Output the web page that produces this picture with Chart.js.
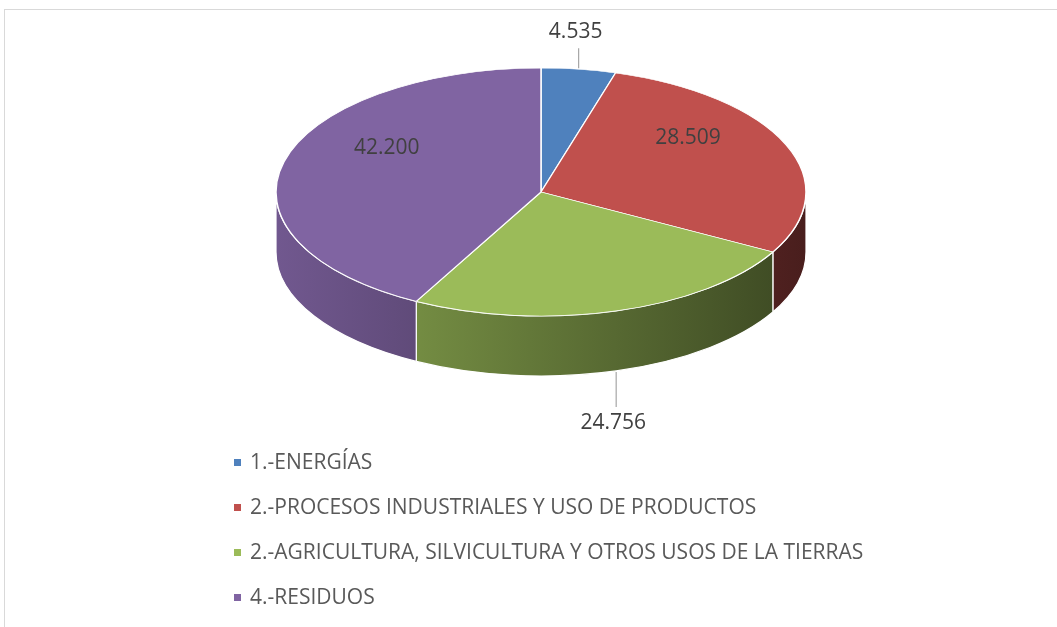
<!DOCTYPE html>
<html>
<head>
<meta charset="utf-8">
<script src="https://cdn.jsdelivr.net/npm/chart.js@4.4.1/dist/chart.umd.min.js"></script>
<style>
  html, body { margin: 0; padding: 0; background: #fff; }
  #wrap { width: 1057px; height: 627px; }
</style>
</head>
<body>
<div id="wrap"><canvas id="myChart" width="1057" height="627"></canvas></div>
<script>
// datos
var categories = [
	'1.-ENERGÍAS',
	'2.-PROCESOS INDUSTRIALES Y USO DE PRODUCTOS',
	'2.-AGRICULTURA, SILVICULTURA Y OTROS USOS DE LA TIERRAS',
	'4.-RESIDUOS'
];
var values = [4.535, 28.509, 24.756, 42.200];
var sliceColors = ['#4F81BD', '#C0504D', '#9BBB59', '#8064A2'];
var labelPlace = ['outside', 'inside', 'outside', 'inside'];

// forma del pastel 3d en pantalla
var pie = { cx: 541, cy: 192, rx: 265, ry: 124, depth: 60 };

function shade(hex, k) {
	let n = parseInt(hex.slice(1), 16);
	let r = Math.round(((n >> 16) & 255) * k);
	let g = Math.round(((n >> 8) & 255) * k);
	let b = Math.round((n & 255) * k);
	return 'rgb(' + r + ',' + g + ',' + b + ')';
}

function fmt(v) {
	return v.toFixed(3);
}

var pie3d = {
	id: 'pie3d',
	beforeDatasetsDraw(chart) {
		let ctx = chart.ctx;
		let meta = chart.getDatasetMeta(0);
		let first = meta.data[0];
		// paredes laterales
		for (let i = 0; i < meta.data.length; i++) {
			let arc = meta.data[i];
			let a1 = Math.max(arc.startAngle, 0);
			let a2 = Math.min(arc.endAngle, Math.PI);
			if (a2 <= a1) continue;
			let grad = ctx.createLinearGradient(pie.cx - pie.rx, 0, pie.cx + pie.rx, 0);
			grad.addColorStop(0, shade(sliceColors[i], 0.88));
			grad.addColorStop(1, shade(sliceColors[i], 0.38));
			ctx.beginPath();
			ctx.ellipse(pie.cx, pie.cy, pie.rx, pie.ry, 0, a1, a2);
			ctx.ellipse(pie.cx, pie.cy + pie.depth, pie.rx, pie.ry, 0, a2, a1, true);
			ctx.closePath();
			ctx.fillStyle = grad;
			ctx.fill();
			ctx.strokeStyle = '#ffffff';
			ctx.lineWidth = 1.2;
			ctx.stroke();
		}
		// cara superior aplastada
		ctx.save();
		ctx.translate(pie.cx, pie.cy);
		ctx.scale(pie.rx / first.outerRadius, pie.ry / first.outerRadius);
		ctx.translate(-first.x, -first.y);
	},
	afterDatasetsDraw(chart) {
		let ctx = chart.ctx;
		ctx.restore();
		let meta = chart.getDatasetMeta(0);
		ctx.save();
		ctx.font = '21px "Open Sans"';
		ctx.textAlign = 'center';
		ctx.textBaseline = 'middle';
		for (let i = 0; i < meta.data.length; i++) {
			let arc = meta.data[i];
			let m = (arc.startAngle + arc.endAngle) / 2;
			let c = Math.cos(m), s = Math.sin(m);
			let txt = fmt(chart.data.datasets[0].data[i]);
			if (labelPlace[i] == 'inside') {
				let f = 0.6;
				ctx.fillStyle = '#404040';
				ctx.fillText(txt, pie.cx + f * pie.rx * c, pie.cy + f * pie.ry * s - 26);
			} else {
				let px = pie.cx + pie.rx * c;
				let py = pie.cy + pie.ry * s + (s > 0 ? pie.depth : 0);
				let len = s > 0 ? 36 : 21;
				let dir = s > 0 ? 1 : -1;
				ctx.strokeStyle = '#A6A6A6';
				ctx.lineWidth = 1.2;
				ctx.beginPath();
				ctx.moveTo(px, py + 1 * dir);
				ctx.lineTo(px, py + len * dir);
				ctx.stroke();
				ctx.fillStyle = '#404040';
				ctx.fillText(txt, px - 3, py + (len + 16) * dir);
			}
		}
		ctx.restore();
	},
	afterDraw(chart) {
		let ctx = chart.ctx;
		ctx.save();
		// leyenda
		ctx.font = '21px "Open Sans"';
		ctx.textAlign = 'left';
		ctx.textBaseline = 'middle';
		for (let i = 0; i < categories.length; i++) {
			let y = 463 + i * 45;
			ctx.fillStyle = sliceColors[i];
			ctx.fillRect(234, y - 4, 7, 7);
			ctx.fillStyle = '#595959';
			ctx.fillText(chart.data.labels[i], 250, y);
		}
		// marco
		ctx.strokeStyle = '#D9D9D9';
		ctx.lineWidth = 1;
		ctx.strokeRect(4.5, 9.5, 1200, 800);
		ctx.restore();
	}
};

var ctx = document.getElementById('myChart');
var chart = new Chart(ctx, {
	type: 'pie',
	data: {
		labels: categories,
		datasets: [{
			data: values,
			backgroundColor: sliceColors,
			borderColor: '#ffffff',
			borderWidth: 1.5
		}]
	},
	options: {
		responsive: false,
		animation: false,
		layout: { padding: { top: 48, bottom: 49 } },
		plugins: {
			legend: { display: false },
			tooltip: { enabled: false }
		}
	},
	plugins: [pie3d]
});
</script>
</body>
</html>
